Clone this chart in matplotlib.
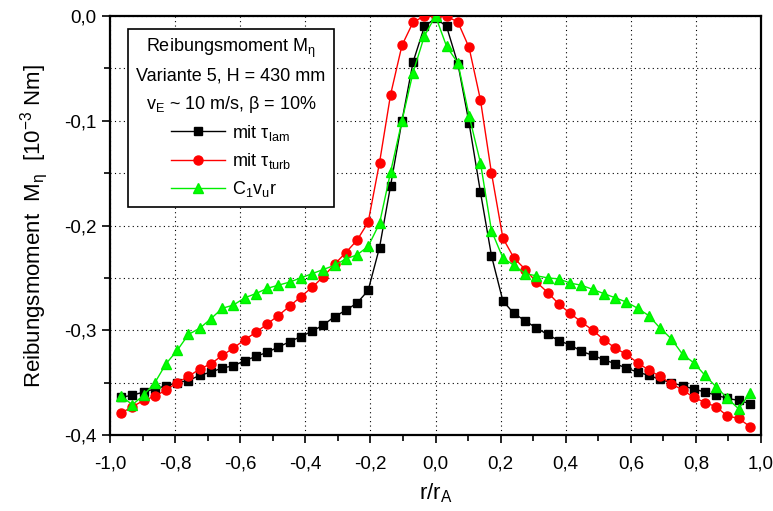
import numpy as np
import matplotlib
matplotlib.use("Agg")
import matplotlib.pyplot as plt
from matplotlib.ticker import MultipleLocator, FuncFormatter

plt.rcParams['font.family'] = ['Liberation Sans', 'DejaVu Sans']
plt.rcParams['mathtext.fontset'] = 'custom'
plt.rcParams['mathtext.rm'] = 'Liberation Sans'
plt.rcParams['mathtext.it'] = 'Liberation Sans:italic'

# radial position r/r_A
r = [-0.966, -0.931, -0.897, -0.862, -0.828, -0.793, -0.759, -0.724, -0.690, -0.655,
     -0.621, -0.586, -0.552, -0.517, -0.483, -0.448, -0.414, -0.379, -0.345, -0.310,
     -0.276, -0.241, -0.207, -0.172, -0.138, -0.103, -0.069, -0.034, 0.0,
     0.034, 0.069, 0.103, 0.138, 0.172, 0.207, 0.241, 0.276, 0.310, 0.345,
     0.379, 0.414, 0.448, 0.483, 0.517, 0.552, 0.586, 0.621, 0.655, 0.690,
     0.724, 0.759, 0.793, 0.828, 0.862, 0.897, 0.931, 0.966]

# friction torque [1e-3 Nm]
m_lam = [-0.364, -0.362, -0.359, -0.356, -0.353, -0.350, -0.348, -0.343, -0.340, -0.336,
         -0.334, -0.329, -0.325, -0.321, -0.316, -0.311, -0.306, -0.301, -0.295, -0.287,
         -0.281, -0.274, -0.262, -0.221, -0.162, -0.100, -0.044, -0.010, -0.002,
         -0.010, -0.046, -0.102, -0.168, -0.229, -0.272, -0.284, -0.291, -0.298, -0.304,
         -0.310, -0.314, -0.320, -0.324, -0.328, -0.332, -0.336, -0.340, -0.343, -0.347,
         -0.350, -0.353, -0.356, -0.359, -0.362, -0.365, -0.367, -0.370]

m_turb = [-0.379, -0.373, -0.367, -0.363, -0.357, -0.350, -0.344, -0.337, -0.332, -0.324,
          -0.317, -0.309, -0.302, -0.294, -0.286, -0.277, -0.268, -0.259, -0.249, -0.237,
          -0.226, -0.214, -0.197, -0.140, -0.075, -0.028, -0.006, 0.000, 0.000,
          0.000, -0.006, -0.030, -0.080, -0.150, -0.212, -0.231, -0.242, -0.254, -0.264,
          -0.275, -0.284, -0.292, -0.300, -0.309, -0.317, -0.323, -0.331, -0.338, -0.344,
          -0.351, -0.357, -0.364, -0.369, -0.373, -0.382, -0.384, -0.392]

m_c1 = [-0.363, -0.371, -0.362, -0.350, -0.332, -0.319, -0.304, -0.298, -0.289, -0.279,
        -0.276, -0.269, -0.265, -0.260, -0.257, -0.254, -0.250, -0.246, -0.242, -0.238,
        -0.232, -0.228, -0.220, -0.198, -0.149, -0.100, -0.054, -0.019, 0.000,
        -0.029, -0.045, -0.095, -0.140, -0.205, -0.231, -0.238, -0.246, -0.248, -0.250,
        -0.251, -0.255, -0.257, -0.261, -0.265, -0.269, -0.273, -0.279, -0.286, -0.298,
        -0.308, -0.323, -0.331, -0.343, -0.354, -0.365, -0.375, -0.360]

fig = plt.figure(figsize=(7.73, 5.11), dpi=100)
ax = fig.add_axes([0.1423, 0.1487, 0.8422, 0.82])

ax.plot(r, m_lam, color='black', lw=1, marker='s', ms=5.5, zorder=3,
        label=r'mit $\mathregular{τ_{lam}}$')
ax.plot(r, m_turb, color='red', lw=1, marker='o', ms=6.5, zorder=4,
        label=r'mit $\mathregular{τ_{turb}}$')
ax.plot(r, m_c1, color='#00ee00', lw=1, marker='^', ms=7, zorder=5,
        markerfacecolor='#00ff00', markeredgecolor='#00ee00',
        label=r'$\mathregular{C_1v_ur}$')

ax.set_xlim(-1.0, 1.0)
ax.set_ylim(-0.4, 0.0)
ax.xaxis.set_major_locator(MultipleLocator(0.2))
ax.xaxis.set_minor_locator(MultipleLocator(0.1))
ax.yaxis.set_major_locator(MultipleLocator(0.1))
ax.yaxis.set_minor_locator(MultipleLocator(0.05))

def comma(v, pos):
    s = f"{v:.1f}".replace('.', ',')
    return '0,0' if s == '-0,0' else s

ax.xaxis.set_major_formatter(FuncFormatter(comma))
ax.yaxis.set_major_formatter(FuncFormatter(comma))
ax.tick_params(which='major', direction='out', length=6, width=1.2, labelsize=13.5)
ax.tick_params(which='minor', direction='out', length=4, width=1.2)
ax.tick_params(axis='x', pad=9)

ax.grid(True, which='major', axis='x', color='black', ls=(0, (1, 3)), lw=0.8)
ax.grid(True, which='both', axis='y', color='black', ls=(0, (1, 3)), lw=0.8)
for s in ax.spines.values():
    s.set_linewidth(1.6)

ax.set_xlabel(r'$\mathregular{r/r_A}$', fontsize=16, labelpad=6)
ax.set_ylabel(r'Reibungsmoment  $\mathregular{M_η}$  [$\mathregular{10^{-3}}$ Nm]',
              fontsize=16, labelpad=10)

leg = ax.legend(loc='upper left', bbox_to_anchor=(0.028, 0.97), borderaxespad=0,
                fancybox=False, edgecolor='black', framealpha=1, fontsize=13,
                title='Reibungsmoment $\\mathregular{M_η}$\nVariante 5, H = 430 mm\n'
                      '$\\mathregular{v_E}$ ~ 10 m/s, β = 10%',
                title_fontsize=13, handlelength=3.0, handletextpad=0.4,
                labelspacing=0.45, borderpad=0.45)
leg.get_title().set_multialignment('center')
leg.get_title().set_linespacing(1.6)
leg.get_frame().set_linewidth(1.2)

fig.savefig('out.png', dpi=100)
